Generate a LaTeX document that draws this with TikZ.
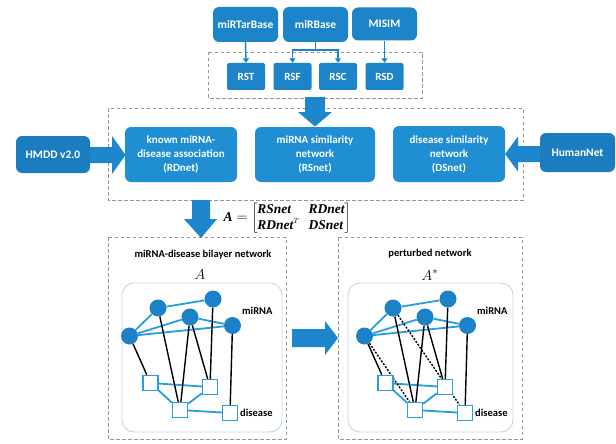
\documentclass[tikz,border=0pt]{standalone}
\usepackage{fontspec}
\setmainfont{Carlito}
\newfontfamily\formfont{Liberation Serif}
\usetikzlibrary{arrows.meta,backgrounds}
\definecolor{boxblue}{RGB}{32,142,210}
\definecolor{topblue}{RGB}{30,132,202}
\definecolor{darkblue}{RGB}{28,124,192}
\definecolor{arrowblue}{RGB}{30,134,204}
\definecolor{edgeblue}{RGB}{40,158,222}
\definecolor{nodeblue}{RGB}{28,130,200}
\definecolor{dashgray}{RGB}{150,150,150}
\definecolor{innerline}{RGB}{190,217,238}
\begin{document}
\begin{tikzpicture}[x=1pt,y=-1pt,
  bluebox/.style={fill=boxblue, rounded corners=6pt, text=white, align=center, inner sep=0pt,
    font=\bfseries\fontsize{11}{14}\selectfont},
  topbox/.style={bluebox, fill=topblue, font=\bfseries\fontsize{11.5}{13}\selectfont},
  smallbox/.style={bluebox, fill=topblue, rounded corners=2pt, minimum width=38pt, minimum height=27pt,
    font=\bfseries\fontsize{11}{13}\selectfont},
  sidebox/.style={bluebox, fill=darkblue, font=\bfseries\fontsize{11.5}{13}\selectfont},
  conn/.style={draw=topblue, line width=1.4pt, -{Triangle[length=4.5pt,width=6pt]}},
  connline/.style={draw=topblue, line width=1.4pt},
  dashbox/.style={draw=dashgray, line width=0.8pt, dash pattern=on 3.5pt off 2.5pt},
  fat/.style={fill=arrowblue},
  inner/.style={draw=innerline, line width=0.9pt, rounded corners=12pt},
  mirna/.style={circle, fill=nodeblue, minimum size=17pt, inner sep=0pt},
  dis/.style={rectangle, draw=edgeblue, fill=white, line width=1.4pt, minimum size=15pt, inner sep=0pt},
  bedge/.style={draw=edgeblue, line width=1.8pt},
  kedge/.style={draw=black, line width=1.4pt},
  dedge/.style={draw=black, line width=1.4pt, dash pattern=on 2pt off 1.5pt},
  lbl/.style={font=\bfseries\fontsize{10.5}{12}\selectfont, text=black, inner sep=0pt}
]
\useasboundingbox (0,0) rectangle (616,444);
\begin{scope}[on background layer]
  \fill[white] (0,0) rectangle (616,444);
\end{scope}

% dashed groups
\draw[dashbox] (208,52) rectangle (422,98);
\draw[dashbox] (108,108) rectangle (523,200);
\draw[dashbox] (108,237) rectangle (286,439);
\draw[dashbox] (338,237) rectangle (522,439);

% top sources
\node[topbox, minimum width=65pt, minimum height=35pt] (mirtar) at (245.5,24.5) {miRTarBase};
\node[topbox, minimum width=65pt, minimum height=35pt] (mirbase) at (315.5,24.5) {miRBase};
\node[topbox, minimum width=65pt, minimum height=33pt] (misim) at (384.5,24) {MISIM};

\node[smallbox] (rst) at (246,76.5) {RST};
\node[smallbox] (rsf) at (292.5,76.5) {RSF};
\node[smallbox] (rsc) at (338,76.5) {RSC};
\node[smallbox] (rsd) at (384.5,76.5) {RSD};

\coordinate (split) at (315.5,50);
\draw[conn] (mirtar.south) -- (rst.north);
\draw[connline] (mirbase.south) -- (split);
\draw[conn] (split) -| (rsf.north);
\draw[conn] (split) -| (rsc.north);
\draw[conn] (misim.south) -- (rsd.north);

% middle row
\node[bluebox, minimum width=112pt, minimum height=55pt] (rd) at (181,154.5) {known miRNA-\\disease association\\(RDnet)};
\node[bluebox, minimum width=120pt, minimum height=55pt] (rs) at (315,154.5) {miRNA similarity\\network\\(RSnet)};
\node[bluebox, minimum width=112pt, minimum height=56pt] (ds) at (449,154) {disease similarity\\network\\(DSnet)};
\node[sidebox, minimum width=74pt, minimum height=37pt] (hmdd) at (53,154.5) {HMDD v2.0};
\node[sidebox, minimum width=75pt, minimum height=39pt] (hn) at (577.5,152.5) {HumanNet};

% fat arrows
\fill[fat] (305,97) -- (325,97) -- (325,112) -- (332,112) -- (315,126.5) -- (298,112) -- (305,112) -- cycle;
\fill[fat] (90,147) -- (112,147) -- (112,136) -- (125.5,155) -- (112,174) -- (112,163) -- (90,163) -- cycle;
\fill[fat] (540,146) -- (518,146) -- (518,136.5) -- (505,154) -- (518,171.5) -- (518,162) -- (540,162) -- cycle;
\fill[fat] (192,200) -- (210,200) -- (210,219) -- (217,219) -- (201,238) -- (184,219) -- (192,219) -- cycle;
\fill[fat] (292,329) -- (325,329) -- (325,321) -- (338,338) -- (325,355) -- (325,347) -- (292,347) -- cycle;

% formula
\node (formula) at (287,218) {\fontsize{13.5}{16}\selectfont
  $\mbox{\formfont\bfseries\itshape A}=\left[\begin{array}{@{}l@{\hspace{9pt}}l@{}}
  \mbox{\formfont\bfseries\itshape RSnet} & \mbox{\formfont\bfseries\itshape RDnet}\\
  \mbox{\formfont\bfseries\itshape RDnet}^{\scriptscriptstyle T} & \mbox{\formfont\bfseries\itshape DSnet}
  \end{array}\right]$};

% titles
\node[lbl] (t1) at (203,255) {miRNA-disease bilayer network};
\node (a1) at (200,275) {\fontsize{15}{15}\selectfont $A$};
\node[lbl] (t2) at (430,254) {perturbed network};
\node (a2) at (430,275) {\fontsize{15}{15}\selectfont $A^{*}$};

\draw[inner] (122,283) rectangle (282,432);
\draw[inner] (348,283) rectangle (513,432);

% networks
\foreach \pre/\dx in {L-/0, R-/235}{
\begin{scope}[xshift=\dx, name prefix=\pre]
  \node[mirna] (c1) at (129.5,336) {};
  \node[mirna] (c2) at (158,308) {};
  \node[mirna] (c3) at (190,317) {};
  \node[mirna] (c4) at (213,299) {};
  \node[mirna] (c5) at (232.5,325.5) {};
  \node[dis] (s1) at (150.5,383) {};
  \node[dis] (s2) at (180,410) {};
  \node[dis] (s3) at (210,387) {};
  \node[dis] (s4) at (230,413) {};
  \node[lbl, anchor=west] (lm) at (242,311) {miRNA};
  \node[lbl, anchor=west] (ld) at (240,413) {disease};
  \begin{scope}[on background layer]
    \draw[bedge] (c1) -- (c2);
    \draw[bedge] (c2) -- (c4);
    \draw[bedge] (c1) -- (c3);
    \draw[bedge] (c3) -- (c5);
    \draw[bedge] (c1) -- (c5);
    \draw[bedge] (s1) -- (s3);
    \draw[bedge] (s1) -- (s2);
    \draw[bedge] (s2) -- (s3);
    \draw[bedge] (s2) -- (s4);
    \draw[kedge] (c1) -- (s1);
    \draw[kedge] (c2) -- (s2);
    \draw[kedge] (c3) -- (s2);
    \draw[kedge] (c3) -- (s3);
    \draw[kedge] (c4) -- (s3);
    \draw[kedge] (c5) -- (s4);
  \end{scope}
\end{scope}
}
\begin{scope}[on background layer]
  \draw[dedge] (R-c1) -- (R-s2);
  \draw[dedge] (R-c2) -- (R-s4);
\end{scope}
\end{tikzpicture}
\end{document}
